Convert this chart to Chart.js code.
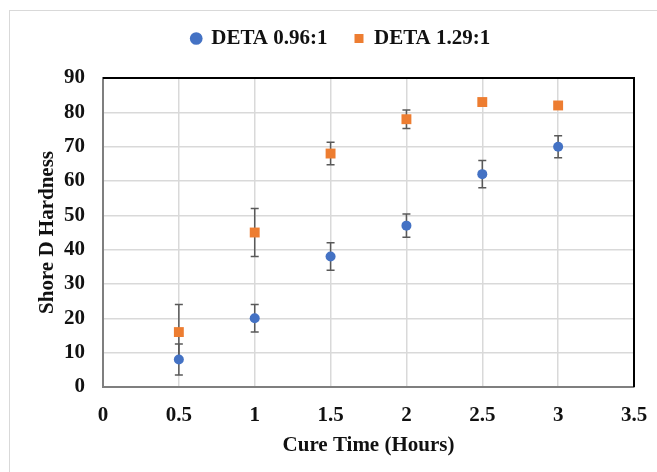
<!DOCTYPE html>
<html>
<head>
<meta charset="utf-8">
<script src="https://cdn.jsdelivr.net/npm/chart.js@4"></script>
<style>
    html, body { margin: 0; padding: 0; background: #fff; overflow: hidden; }
    .frame { position: absolute; left: 9px; top: 10px; width: 700px; height: 500px; border: 1px solid #d9d9d9; }
    #chart { position: absolute; left: 0; top: 0; }
</style>
</head>
<body>
<div class="frame"></div>
<canvas id="chart" width="657" height="472"></canvas>
<script>
/* Shore D hardness vs cure time, two DETA ratios with error bars */

const cureHours = [0.5, 1, 1.5, 2, 2.5, 3];

const deta096 = [8, 20, 38, 47, 62, 70];
const deta096Err = [4.5, 4, 4, 3.4, 4, 3.2];

const deta129 = [16, 45, 68, 78, 83, 82];
const deta129Err = [8, 7, 3.3, 2.7, 0, 0];

const seriesNames = ['DETA 0.96:1', 'DETA 1.29:1'];

const FONT = { family: '"Liberation Serif", "Times New Roman", serif', size: 21, weight: 'bold' };
const TEXT = '#111';

function toPoints(values) {
    return cureHours.map((x, i) => ({ x, y: values[i] }));
}

// vertical error bars with caps, drawn under the markers
const errorBars = {
    id: 'errorBars',
    beforeDatasetsDraw(chart) {
        const { ctx, scales: { x, y } } = chart;
        const errs = [deta096Err, deta129Err];
        ctx.save();
        ctx.strokeStyle = '#595959';
        ctx.lineWidth = 1.5;
        chart.data.datasets.forEach((ds, d) => {
            ds.data.forEach((p, i) => {
                const e = errs[d][i];
                if (!e) return;
                const px = x.getPixelForValue(p.x);
                const top = y.getPixelForValue(p.y + e);
                const bot = y.getPixelForValue(p.y - e);
                ctx.beginPath();
                ctx.moveTo(px, top); ctx.lineTo(px, bot);
                ctx.moveTo(px - 4, top); ctx.lineTo(px + 4, top);
                ctx.moveTo(px - 4, bot); ctx.lineTo(px + 4, bot);
                ctx.stroke();
            });
        });
        // top and right edges of the plot box
        const a = chart.chartArea;
        ctx.strokeStyle = '#000';
        ctx.lineWidth = 2;
        ctx.beginPath();
        ctx.moveTo(a.left, a.top);
        ctx.lineTo(a.right, a.top);
        ctx.lineTo(a.right, a.bottom);
        ctx.stroke();
        ctx.restore();
    }
};

// leave some extra room under the legend
const legendGap = {
    id: 'legendGap',
    afterInit(chart) {
        const fit = chart.legend.fit;
        chart.legend.fit = function () {
            fit.call(this);
            this.height += 19;
        };
    }
};

new Chart(document.getElementById('chart'), {
    type: 'scatter',
    data: {
        datasets: [
            {
                label: seriesNames[0],
                data: toPoints(deta096),
                pointStyle: 'circle',
                pointRadius: 5,
                pointHoverRadius: 5,
                backgroundColor: '#4472C4',
                borderColor: '#4472C4',
                borderWidth: 0,
            },
            {
                label: seriesNames[1],
                data: toPoints(deta129),
                pointStyle: 'rect',
                pointRadius: 7,
                pointHoverRadius: 7,
                backgroundColor: '#ED7D31',
                borderColor: '#ED7D31',
                borderWidth: 0,
            },
        ],
    },
    options: {
        responsive: false,
        animation: false,
        layout: { padding: { left: 25, right: 0, top: 1, bottom: 0 } },
        plugins: {
            legend: {
                position: 'top',
                labels: {
                    usePointStyle: true,
                    boxWidth: 9,
                    boxHeight: 9,
                    padding: 27,
                    color: TEXT,
                    font: FONT,
                },
            },
            tooltip: { enabled: false },
        },
        scales: {
            x: {
                type: 'linear',
                min: 0,
                max: 3.5,
                ticks: { stepSize: 0.5, color: TEXT, font: FONT, padding: 16, callback: v => String(+v.toFixed(1)) },
                grid: { color: '#d9d9d9', lineWidth: 1.5, drawTicks: false },
                border: { color: '#7f7f7f', width: 2 },
                title: { display: true, text: 'Cure Time (Hours)', color: TEXT, font: FONT, padding: { top: 0, bottom: 14 } },
                afterFit(scale) {
                    scale.height = 85;
                    scale.paddingLeft = 0;
                    scale.paddingRight = 0;
                },
            },
            y: {
                min: 0,
                max: 90,
                ticks: { stepSize: 10, color: TEXT, font: FONT, padding: 18 },
                grid: { color: '#d9d9d9', lineWidth: 1.5, drawTicks: false },
                border: { color: '#7f7f7f', width: 2 },
                title: { display: true, text: 'Shore D Hardness', color: TEXT, font: FONT, padding: { top: 10, bottom: 0 } },
                afterFit(scale) { scale.width = 78; },
            },
            // empty right-side box so the plot ends where the frame's right margin begins
            y2: {
                position: 'right',
                display: true,
                ticks: { display: false },
                grid: { display: false },
                border: { display: false },
                afterFit(scale) { scale.width = 23; },
            },
        },
    },
    plugins: [errorBars, legendGap],
});
</script>
</body>
</html>
